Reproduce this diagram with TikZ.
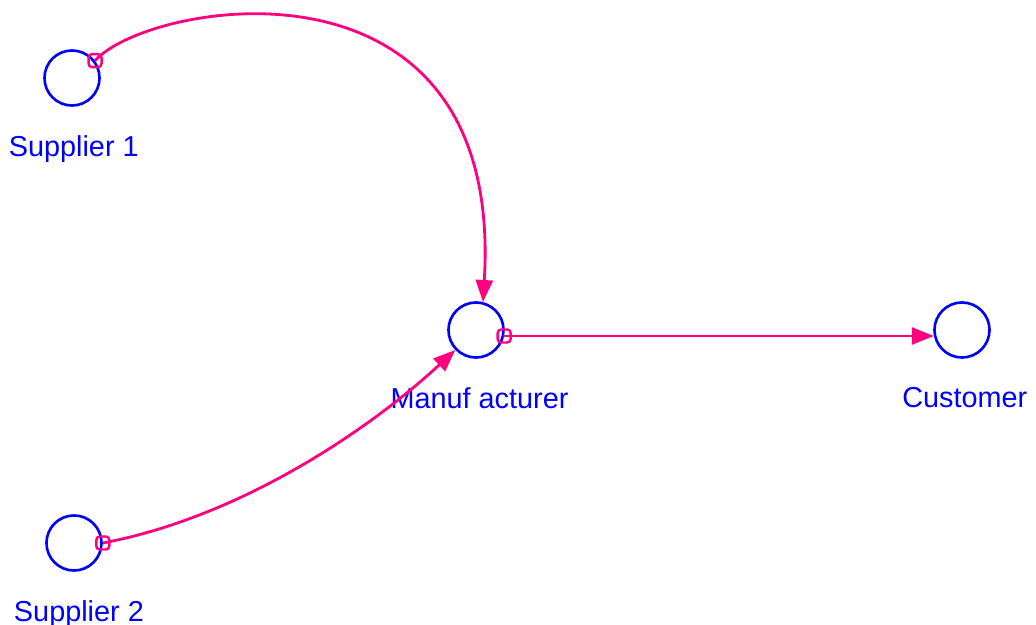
\documentclass[tikz,border=0pt]{standalone}
\usepackage{fontspec}
\setmainfont{Liberation Sans}
\usepackage{xcolor}
\usepackage{tikz}
\usetikzlibrary{arrows.meta, positioning, calc}

\definecolor{flowpink}{RGB}{255,0,128}
\definecolor{stockblue}{RGB}{0,0,255}

\begin{document}
\begin{tikzpicture}[
    x=0.01cm, y=-0.01cm,
    agent/.style={circle, draw=stockblue, line width=0.75pt, inner sep=0pt,
                  minimum size=0.55cm},
    lbl/.style={text=stockblue, inner sep=0pt,
                font=\fontsize{8.2}{9.8}\selectfont},
    flow/.style={draw=flowpink, line width=0.8pt,
                 -{Triangle[length=0.22cm, width=0.17cm]}},
    tap/.style={draw=flowpink, line width=0.7pt, rounded corners=1pt,
                inner sep=0pt, minimum size=0.13cm}
]
\useasboundingbox (0,0) rectangle (1036,625);

%% --- agents ---
\node[agent] (sup1) at (72,78)   {};
\node[agent] (man)  at (476,330) {};
\node[agent] (cust) at (962,330) {};
\node[agent] (sup2) at (74,543)  {};

%% --- labels ---
\node[lbl, below=0.28cm of sup1, xshift=0.5pt] (sup1lbl) {Supplier 1};
\node[lbl, below=0.28cm of man, xshift=1pt]    (manlbl)  {Manuf acturer};
\node[lbl, below=0.28cm of cust, xshift=0.8pt] (custlbl) {Customer};
\node[lbl, below=0.28cm of sup2, xshift=1.4pt] (sup2lbl) {Supplier 2};

%% --- links ---
\draw[flow] (sup1.37) .. controls (150,0) and (505,-60) .. (man.76);
\draw[flow] (sup2.east) .. controls (250,515) and (380,420) .. (man.224);
\draw[flow] (man.-12) -- (cust.192);

%% --- link origins ---
\node[tap] (tap1) at (sup1.37)   {};
\node[tap] (tap2) at (sup2.east) {};
\node[tap] (tap3) at (man.-12)   {};

\end{tikzpicture}
\end{document}
